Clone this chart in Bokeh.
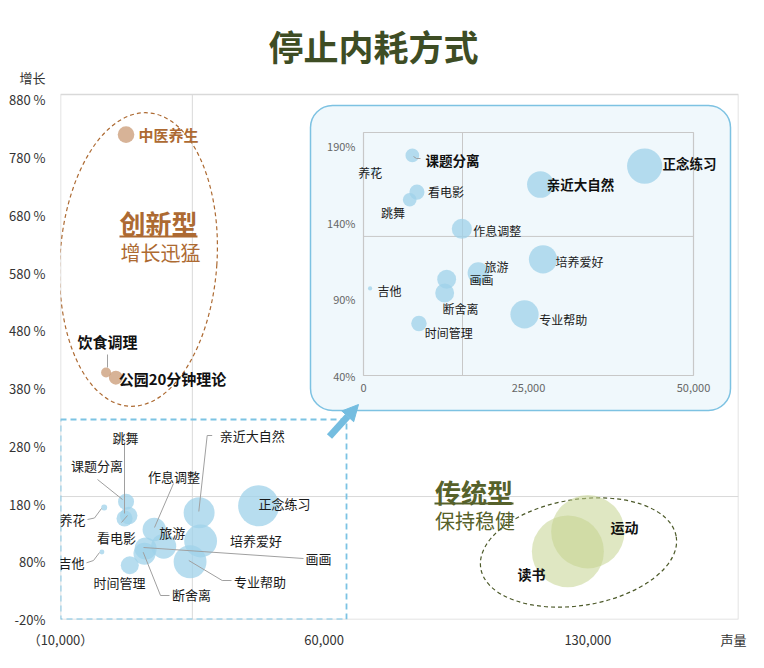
import math
from bokeh.plotting import figure
from bokeh.models import Range1d, FixedTicker, BoxAnnotation, Arrow, NormalHead
from bokeh.core.properties import value
from bokeh.embed import file_html
from bokeh.resources import INLINE

FONT = "Noto Sans CJK SC"

# ---------------- data ----------------
calm_names = ["正念练习", "亲近大自然", "培养爱好", "专业帮助", "旅游", "作息调整", "画画",
              "断舍离", "时间管理", "看电影", "跳舞", "课题分离", "吉他", "养花"]
calm_x = [42600, 26800, 27200, 24400, 17400, 14900, 12600, 12300, 8400, 8100, 7000, 7400, 1000, 1600]
calm_y = [177, 165, 116, 80, 107, 136, 103, 94, 74, 160, 155, 184, 97, 174]
calm_heat = [4200, 2400, 2700, 2700, 1560, 1370, 1210, 1210, 810, 770, 640, 640, 60, 90]

new_names = ["中医养生", "饮食调理", "公园20分钟理论"]
new_x = [7400, 2100, 4700]
new_y = [820, 408, 399]
new_heat = [690, 250, 490]

trad_names = ["运动", "读书"]
trad_x = [130000, 124700]
trad_y = [132, 98]
trad_heat = [13450, 12960]

y_ticks = [-20, 80, 180, 280, 380, 480, 580, 680, 780, 880]
y_tick_labels = ["-20%", "80%", "180 %", "280 %", "380 %", "480 %", "580 %", "680 %", "780 %", "880 %"]
x_ticks = [-10000, 60000, 130000]
x_tick_labels = ["（10,000）", "60,000", "130,000"]
y_name, x_name = "增长", "声量"

inset_x_ticks = [0, 25000, 50000]
inset_x_labels = ["0", "25,000", "50,000"]
inset_y_ticks = [40, 90, 140, 190]
inset_y_labels = ["40%", "90%", "140%", "190%"]

main_split = (25000, 193)
inset_split = (15000, 131)

# ---------------- styles ----------------
BLUE = "#9fd1ea"
TAN = "#c99a74"
GREEN = "#c4d38f"
BROWN = "#ad6a32"
OLIVE = "#56612a"
TITLE_C = "#3e4d24"
LEAD = "#a0a0a0"
DASH_BLUE = "#7cc3e3"

W, H = 764, 668
XR = (-10000, 170000)
YV = (-20, 889.5)            # visible plotting area values
# canvas pixels of the visible plot area
FL, FR, FT, FB = 60, 738, 94, 619
TOP = 0                      # frame extends to canvas top
ky = (YV[1] - YV[0]) / (FB - FT)
YR = (YV[0], YV[1] + (FT - TOP) * ky)


def mdx(px):
    return XR[0] + (px - FL) / (FR - FL) * (XR[1] - XR[0])


def mdy(py):
    return YV[0] + (FB - py) * ky


# inset geometry (canvas pixels) and its ranges over the main frame
IXR = (0, 50000)
IYR = (40, 199)
IL, IR, IT, IB = 363, 693, 132, 375
kix = (IXR[1] - IXR[0]) / (IR - IL)
kiy = (IYR[1] - IYR[0]) / (IB - IT)
IX_FULL = (IXR[0] - (IL - FL) * kix, IXR[1] + (FR - IR) * kix)
IY_FULL = (IYR[0] - (FB - IB) * kiy, IYR[1] + (IT - TOP) * kiy)


def idx(px):
    return IXR[0] + (px - IL) * kix


def idy(py):
    return IYR[0] + (IB - py) * kiy


def rad(h):
    return math.sqrt(h / 10.0)


# ---------------- figure ----------------
p = figure(width=W, height=H, output_backend="svg", toolbar_location=None,
           x_range=Range1d(*XR), y_range=Range1d(*YR),
           min_border_left=FL, min_border_right=W - FR,
           min_border_top=TOP, min_border_bottom=H - FB)
p.extra_x_ranges = {"ix": Range1d(*IX_FULL)}
p.extra_y_ranges = {"iy": Range1d(*IY_FULL)}
p.background_fill_color = "white"
p.border_fill_color = "white"
p.outline_line_color = None
p.xgrid.visible = False
p.ygrid.visible = False

for ax in (p.xaxis[0], p.yaxis[0]):
    ax.axis_line_color = None
    ax.major_tick_line_color = None
    ax.minor_tick_line_color = None
    ax.major_tick_out = 0
    ax.major_tick_in = 0
    ax.minor_tick_out = 0
    ax.minor_tick_in = 0
    ax.major_label_text_font = FONT
    ax.major_label_text_font_size = "13px"
    ax.major_label_text_color = "#333333"
name_y = mdy(77)
name_x = mdx(733)
p.yaxis.ticker = FixedTicker(ticks=y_ticks + [name_y])
p.yaxis.major_label_overrides = {**dict(zip(y_ticks, y_tick_labels)), name_y: y_name}
p.yaxis.major_label_standoff = 15
p.xaxis.ticker = FixedTicker(ticks=x_ticks + [name_x])
p.xaxis.major_label_overrides = {**dict(zip(x_ticks, x_tick_labels)), name_x: x_name}
p.xaxis.major_label_standoff = 10

# plot-area border
p.quad(left=[XR[0]], right=[XR[1]], bottom=[YV[0]], top=[YV[1]], fill_color=None,
       line_color="#d9d9d9", line_width=1.5, level="underlay")

# quadrant split lines
p.segment(x0=[main_split[0], XR[0]], y0=[YV[0], main_split[1]], x1=[main_split[0], XR[1]],
          y1=[YV[1], main_split[1]], line_color="#d9d9d9", line_width=1, level="underlay")

# inset panel
p.add_layout(BoxAnnotation(left=mdx(310), right=mdx(730), top=mdy(105), bottom=mdy(410),
                           fill_color="#f0f8fc", fill_alpha=1, line_color="#7dc2e2", line_alpha=1,
                           line_width=1.5, border_radius=22, level="underlay"))
# dashed zoom region
p.add_layout(BoxAnnotation(left=XR[0], right=mdx(346), top=mdy(419), bottom=YV[0],
                           fill_alpha=0, line_color=DASH_BLUE, line_alpha=1, line_width=1.8,
                           line_dash="6 4", level="underlay"))

# group ellipses
p.ellipse(x=[mdx(138)], y=[mdy(259)], width=157, height=294, width_units="screen", height_units="screen",
          angle=-0.065, fill_color=None, line_color=BROWN, line_width=1.2, line_dash="4 3")
p.ellipse(x=[mdx(578)], y=[mdy(552)], width=198, height=106, width_units="screen", height_units="screen",
          angle=0.16, fill_color=None, line_color="#4d5a2a", line_width=1.2, line_dash="4 3")

# bubbles
p.scatter(calm_x, calm_y, size=[2 * rad(h) for h in calm_heat], fill_color=BLUE, fill_alpha=0.75, line_color=None)
p.scatter(new_x, new_y, size=[2 * rad(h) for h in new_heat], fill_color=TAN, fill_alpha=0.75, line_color=None)
p.scatter(trad_x, trad_y, size=[2 * rad(h) for h in trad_heat], fill_color=GREEN, fill_alpha=0.55, line_color=None)

# arrow
p.add_layout(Arrow(end=NormalHead(size=16, fill_color="#74bde0", line_color="#74bde0"),
                   x_start=mdx(329), y_start=mdy(436), x_end=mdx(358), y_end=mdy(404),
                   line_color="#74bde0", line_width=7))

# leader lines (main)
leaders = [
    [(124, 444), (124, 513)],
    [(97, 479), (122, 499)],
    [(173, 483), (154, 527)],
    [(211.7, 435), (206.7, 435), (198.3, 511)],
    [(87, 519), (94, 517.5), (101, 508)],
    [(121, 522), (127, 515)],
    [(86, 562.3), (93, 560), (99, 552)],
    [(143, 547), (303, 558)],
    [(188.3, 560), (221.7, 580), (231, 580)],
    [(142.7, 551.7), (160, 595), (169, 595)],
    [(107, 354), (107, 367)],
]
p.multi_line([[mdx(a) for a, b in L] for L in leaders], [[mdy(b) for a, b in L] for L in leaders],
             line_color=LEAD, line_width=1)

# underlines
p.segment(x0=[mdx(119), mdx(434)], y0=[mdy(236), mdy(503)], x1=[mdx(197), mdx(513)], y1=[mdy(236), mdy(503)],
          line_color=[BROWN, OLIVE], line_width=2)


def put(fx, fy, items, size, bold=False, color="#1a1a1a", align="center", **kw):
    p.text([fx(a) for a, b, t in items], [fy(b) for a, b, t in items], text=[t for a, b, t in items],
           text_font=value(FONT), text_font_size=size, text_font_style="bold" if bold else "normal",
           text_align=align, text_baseline="middle", text_color=color, **kw)


lbl = dict(zip(calm_names, calm_names))
put(mdx, mdy, [
    (125, 437, lbl["跳舞"]), (96.5, 465, lbl["课题分离"]), (173.5, 476, lbl["作息调整"]),
    (251.7, 435, lbl["亲近大自然"]), (284, 503, lbl["正念练习"]), (72, 519, lbl["养花"]),
    (116, 536.7, lbl["看电影"]), (171.7, 532, lbl["旅游"]), (255.5, 540, lbl["培养爱好"]),
    (71, 562, lbl["吉他"]), (318, 558, lbl["画画"]), (119, 582, lbl["时间管理"]),
    (259.5, 580.7, lbl["专业帮助"]), (191, 594, lbl["断舍离"]),
], "13px")
put(mdx, mdy, [(168, 134, new_names[0])], "15px", True, BROWN)
put(mdx, mdy, [(107, 340.7, new_names[1]), (172, 377.7, new_names[2])], "15px", True, "#111111")
put(mdx, mdy, [(624, 526, trad_names[0]), (531, 573.3, trad_names[1])], "14px", True, "#111111")
put(mdx, mdy, [(158, 222, "创新型")], "26px", True, BROWN)
put(mdx, mdy, [(160, 252, "增长迅猛")], "20px", False, BROWN)
put(mdx, mdy, [(473.5, 491, "传统型")], "26px", True, OLIVE)
put(mdx, mdy, [(474.5, 520, "保持稳健")], "20px", False, OLIVE)
put(mdx, mdy, [(373, 45, "停止内耗方式")], "35px", True, TITLE_C)

# ---------------- inset (own ranges) ----------------
R = dict(x_range_name="ix", y_range_name="iy")
p.quad(left=[IXR[0]], right=[IXR[1]], bottom=[IYR[0]], top=[IYR[1]], fill_color=None,
       line_color="#c8c8c8", line_width=1.2, **R)
p.segment(x0=[inset_split[0], IXR[0]], y0=[IYR[0], inset_split[1]], x1=[inset_split[0], IXR[1]],
          y1=[IYR[1], inset_split[1]], line_color="#c8c8c8", line_width=1, **R)
p.text(inset_x_ticks, [IYR[0]] * len(inset_x_ticks), text=inset_x_labels, text_font=value(FONT),
       text_font_size="11px", text_color="#666666", text_align="center", text_baseline="middle",
       y_offset=12, **R)
p.text([IXR[0]] * len(inset_y_ticks), inset_y_ticks, text=inset_y_labels, text_font=value(FONT),
       text_font_size="11px", text_color="#666666", text_align="right", text_baseline="middle",
       x_offset=-8, **R)
p.scatter(calm_x, calm_y, size=[2 * rad(h) * 0.86 for h in calm_heat], fill_color=BLUE, fill_alpha=0.75,
          line_color=None, **R)
p.line([idx(413), idx(416), idx(420)], [idy(156), idy(158), idy(158)], line_color=LEAD, line_width=1, **R)

put(idx, idy, [
    (369.7, 171.7, lbl["养花"]), (445.5, 190.7, lbl["看电影"]), (392.5, 212.3, lbl["跳舞"]),
    (496.7, 230, lbl["作息调整"]), (579, 260.7, lbl["培养爱好"]), (496, 265.7, lbl["旅游"]),
    (481, 279.3, lbl["画画"]), (389, 290, lbl["吉他"]), (460, 308.3, lbl["断舍离"]),
    (448.3, 331.7, lbl["时间管理"]), (562.7, 319.3, lbl["专业帮助"]),
], "12px", **R)
put(idx, idy, [
    (452, 159, lbl["课题分离"]), (580, 183.3, lbl["亲近大自然"]), (689, 162.7, lbl["正念练习"]),
], "13.5px", True, "#111111", **R)

open("out.html", "w").write(file_html(p, INLINE))
